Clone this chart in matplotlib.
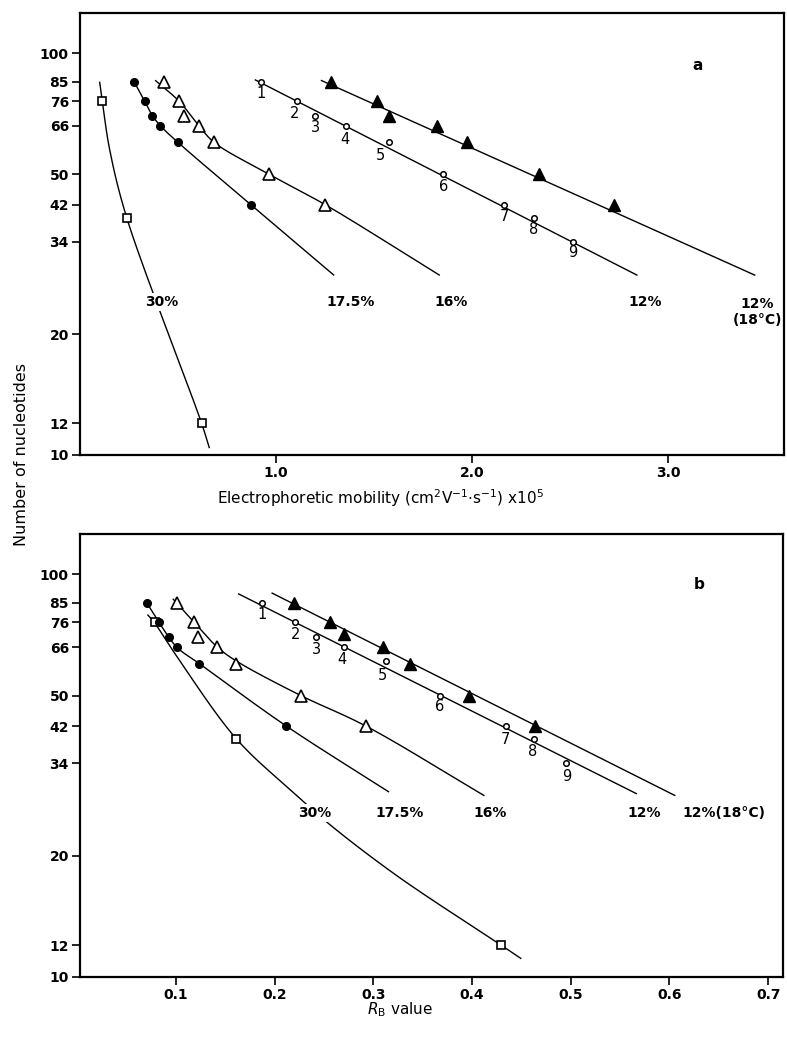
import numpy as np
import matplotlib
matplotlib.use("Agg")
import matplotlib.pyplot as plt
from matplotlib.ticker import FixedLocator, NullLocator

plt.rcParams['font.family'] = ['DejaVu Sans']

# ---------------- data: panel a (electrophoretic mobility) ----------------
yticks = [10, 12, 20, 34, 42, 50, 66, 76, 85, 100]
xticks_a = [1.0, 2.0, 3.0]
xticks_b = [0.1, 0.2, 0.3, 0.4, 0.5, 0.6, 0.7]

sq30_a_x = [0.114, 0.238, 0.62]
sq30_a_n = [76, 39, 12]
fc175_a_x = [0.276, 0.33, 0.369, 0.41, 0.5, 0.871]
fc175_a_n = [85, 76, 70, 66, 60, 42]
ot16_a_x = [0.429, 0.505, 0.531, 0.607, 0.684, 0.964, 1.25]
ot16_a_n = [85, 76, 70, 66, 60, 50, 42]
oc12_a_x = [0.925, 1.109, 1.2, 1.356, 1.577, 1.852, 2.163, 2.313, 2.512]
oc12_a_n = [85, 76, 70, 66, 60, 50, 42, 39, 34]
ft12_a_x = [1.282, 1.517, 1.577, 1.823, 1.971, 2.342, 2.724]
ft12_a_n = [85, 76, 70, 66, 60, 50, 42]

# fitted curves (nodes along each drawn line)
c30_a_x = [0.1, 0.114, 0.15, 0.238, 0.62, 0.66]
c30_a_n = [85, 76, 58, 39, 12, 10.4]
c175_a_x = [0.276, 0.33, 0.369, 0.41, 0.5, 0.871, 1.296]
c175_a_n = [85, 76, 70, 66, 60, 42, 28]
c16_a_x = [0.383, 0.505, 0.607, 0.684, 0.964, 1.25, 1.835]
c16_a_n = [85.7, 76, 66, 60, 50, 42, 28]
c12_a_x = [0.891, 2.843]
c12_a_n = [86, 28]
c12h_a_x = [1.228, 3.444]
c12h_a_n = [85.7, 28]

# ---------------- data: panel b (R_B value) ----------------
sq30_b_x = [0.079, 0.1615, 0.4295]
sq30_b_n = [76, 39, 12]
fc175_b_x = [0.0706, 0.083, 0.093, 0.101, 0.124, 0.212]
fc175_b_n = [85, 76, 70, 66, 60, 42]
ot16_b_x = [0.1017, 0.1186, 0.123, 0.142, 0.161, 0.2267, 0.2926]
ot16_b_n = [85, 76, 70, 66, 60, 50, 42]
oc12_b_x = [0.187, 0.221, 0.242, 0.2706, 0.313, 0.3674, 0.434, 0.4624, 0.4957]
oc12_b_n = [85, 76, 70, 66, 61, 50, 42, 39, 34]
ft12_b_x = [0.22, 0.256, 0.2706, 0.3095, 0.337, 0.3966, 0.4635]
ft12_b_n = [85, 76, 71, 66, 60, 50, 42]

c30_b_x = [0.0713, 0.079, 0.101, 0.1615, 0.22, 0.257, 0.326, 0.4295, 0.45]
c30_b_n = [79.5, 75.5, 62.6, 39, 28.6, 23.8, 17.7, 12, 11.1]
c175_b_x = [0.0706, 0.083, 0.101, 0.124, 0.212, 0.316]
c175_b_n = [85, 76, 66, 60, 42, 28.8]
c16_b_x = [0.097, 0.1186, 0.142, 0.161, 0.2267, 0.2926, 0.4126]
c16_b_n = [87, 76, 66, 61, 50, 42, 28.2]
c12_b_x = [0.163, 0.567]
c12_b_n = [89.6, 28.5]
c12h_b_x = [0.197, 0.606]
c12h_b_n = [90, 28.2]

point_ids = ['1', '2', '3', '4', '5', '6', '7', '8', '9']
gel_labels = ['30%', '17.5%', '16%', '12%']

# label offsets (pixels) for the numbered points
id_off_a = [(0, -12), (-3, -12), (0, -12), (-1, -14), (-9, -13), (0, -12), (0, -12), (0, -12), (0, -11)]
id_off_b = [(0, -12), (0, -12), (1, -13), (-2, -12), (-4, -15), (0, -11), (0, -13), (-1, -12), (0, -13)]


def smooth(xs, ns, sx, sy, n=40):
    """Centripetal Catmull-Rom through nodes, computed in screen-like space."""
    xs = np.asarray(xs, float)
    ns = np.asarray(ns, float)
    if len(xs) < 3:
        return xs, ns
    P = np.column_stack([xs * sx, np.log10(ns) * sy])
    P = np.vstack([2 * P[0] - P[1], P, 2 * P[-1] - P[-2]])
    pts = []
    for i in range(1, len(P) - 2):
        p0, p1, p2, p3 = P[i - 1], P[i], P[i + 1], P[i + 2]
        t0 = 0.0
        t1 = t0 + np.linalg.norm(p1 - p0) ** 0.5
        t2 = t1 + np.linalg.norm(p2 - p1) ** 0.5
        t3 = t2 + np.linalg.norm(p3 - p2) ** 0.5
        t = np.linspace(t1, t2, n)[:, None]
        A1 = (t1 - t) / (t1 - t0) * p0 + (t - t0) / (t1 - t0) * p1
        A2 = (t2 - t) / (t2 - t1) * p1 + (t - t1) / (t2 - t1) * p2
        A3 = (t3 - t) / (t3 - t2) * p2 + (t - t2) / (t3 - t2) * p3
        B1 = (t2 - t) / (t2 - t0) * A1 + (t - t0) / (t2 - t0) * A2
        B2 = (t3 - t) / (t3 - t1) * A2 + (t - t1) / (t3 - t1) * A3
        C = (t2 - t) / (t2 - t1) * B1 + (t - t1) / (t2 - t1) * B2
        pts.append(C if i == 1 else C[1:])
    C = np.vstack(pts)
    return C[:, 0] / sx, 10 ** (C[:, 1] / sy)


fig = plt.figure(figsize=(7.87, 10.46), dpi=100)
W, H = 787.0, 1046.0
ax_a = fig.add_axes([80 / W, 1 - 455 / H, 704 / W, 442 / H])
ax_b = fig.add_axes([80 / W, 1 - 977 / H, 703 / W, 443 / H])

LW = 1.0
tick_font = dict(fontsize=10, fontweight='bold')


def style_axes(ax, xlim, xticks, fmt):
    ax.set_yscale('log')
    ax.set_ylim(10, 126)
    ax.set_xlim(*xlim)
    ax.yaxis.set_major_locator(FixedLocator(yticks))
    ax.yaxis.set_minor_locator(NullLocator())
    ax.set_yticklabels([str(v) for v in yticks], **tick_font)
    ax.set_xticks(xticks)
    ax.set_xticklabels([fmt.format(v) for v in xticks], **tick_font)
    ax.tick_params(direction='out', length=6, width=1.2, pad=2)
    for s in ax.spines.values():
        s.set_linewidth(1.6)


def draw_panel(ax, sx, sets, curves, labels_xy, id_off, tag, tag_xy):
    for (cx, cn) in curves:
        xx, nn = smooth(cx, cn, sx, 402)
        ax.plot(xx, nn, color='black', lw=LW, zorder=2, solid_capstyle='butt')
    (sqx, sqn), (fcx, fcn), (otx, otn), (ocx, ocn), (ftx, ftn) = sets
    ax.plot(sqx, sqn, ls='none', marker='s', ms=5.5, mfc='white', mec='black', mew=1.2, zorder=4)
    ax.plot(fcx, fcn, ls='none', marker='o', ms=5.5, mfc='black', mec='black', zorder=4)
    ax.plot(otx, otn, ls='none', marker='^', ms=8, mfc='white', mec='black', mew=1.2, zorder=4)
    ax.plot(ocx, ocn, ls='none', marker='o', ms=4, mfc='white', mec='black', mew=1.1, zorder=4)
    ax.plot(ftx, ftn, ls='none', marker='^', ms=8, mfc='black', mec='black', zorder=4)
    for lab, x, n, (dx, dy) in zip(point_ids, ocx, ocn, id_off):
        ax.annotate(lab, (x, n), xytext=(dx, dy), textcoords='offset pixels',
                    ha='center', va='center', fontsize=10.5, zorder=5)
    for i, (txt, (x, n)) in enumerate(labels_xy):
        kw = dict(ha='center', va='center', fontsize=10, fontweight='bold', zorder=6)
        if i == 0:
            kw['bbox'] = dict(facecolor='white', edgecolor='none', pad=1.5)
        ax.text(x, n, txt, **kw)
    ax.text(tag_xy[0], tag_xy[1], tag, ha='center', va='center', fontsize=11, fontweight='bold')


# panel a
style_axes(ax_a, (0.0, 3.59), xticks_a, '{:.1f}')
draw_panel(
    ax_a, 196,
    [(sq30_a_x, sq30_a_n), (fc175_a_x, fc175_a_n), (ot16_a_x, ot16_a_n),
     (oc12_a_x, oc12_a_n), (ft12_a_x, ft12_a_n)],
    [(c30_a_x, c30_a_n), (c175_a_x, c175_a_n), (c16_a_x, c16_a_n),
     (c12_a_x, c12_a_n), (c12h_a_x, c12h_a_n)],
    [(gel_labels[0], (0.415, 24.0)), (gel_labels[1], (1.381, 24.0)),
     (gel_labels[2], (1.891, 24.0)), (gel_labels[3], (2.881, 24.0)),
     (gel_labels[3] + '\n(18\u00b0C)', (3.454, 22.7))],
    id_off_a, 'a', (3.15, 93.4))

# panel b
style_axes(ax_b, (0.003, 0.715), xticks_b, '{:.1f}')
draw_panel(
    ax_b, 987,
    [(sq30_b_x, sq30_b_n), (fc175_b_x, fc175_b_n), (ot16_b_x, ot16_b_n),
     (oc12_b_x, oc12_b_n), (ft12_b_x, ft12_b_n)],
    [(c30_b_x, c30_b_n), (c175_b_x, c175_b_n), (c16_b_x, c16_b_n),
     (c12_b_x, c12_b_n), (c12h_b_x, c12h_b_n)],
    [(gel_labels[0], (0.241, 25.5)), (gel_labels[1], (0.327, 25.5)),
     (gel_labels[2], (0.418, 25.5)), (gel_labels[3], (0.574, 25.5)),
     (gel_labels[3] + '(18\u00b0C)', (0.655, 25.5))],
    id_off_b, 'b', (0.63, 94.2))

# axis titles
fig.text(381 / W, 1 - 498 / H,
         r'Electrophoretic mobility (cm$^{2}$V$^{-1}$$\cdot$s$^{-1}$) x10$^{5}$',
         ha='center', va='center', fontsize=11)
fig.text(400 / W, 1 - 1010 / H, r'$R_\mathrm{B}$ value',
         ha='center', va='center', fontsize=11)
fig.text(22 / W, 1 - 455 / H, 'Number of nucleotides', rotation=90,
         ha='center', va='center', fontsize=11.5)

fig.savefig('out.png', dpi=100)
